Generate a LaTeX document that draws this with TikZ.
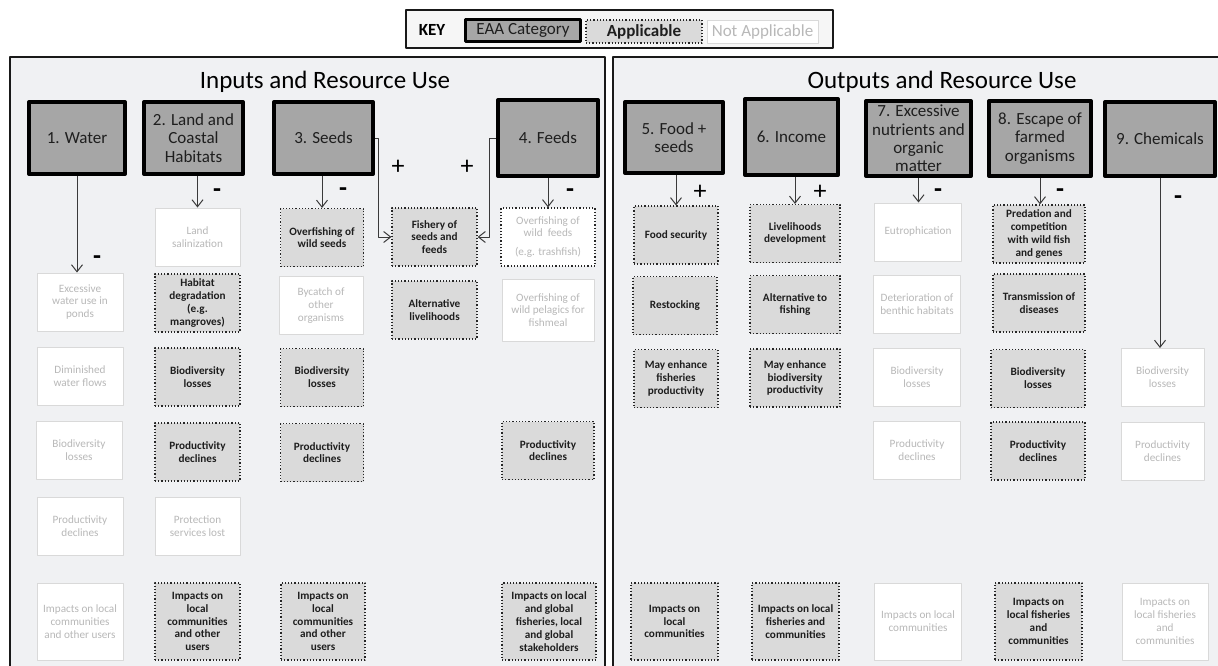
\documentclass[tikz,border=0pt]{standalone}
\usepackage{fontspec}
\setmainfont{Carlito}
\usetikzlibrary{arrows.meta}
\definecolor{panelbg}{HTML}{F0F1F3}
\definecolor{keybg}{HTML}{F6F6F6}
\definecolor{catgray}{HTML}{A6A6A6}
\definecolor{applgray}{HTML}{DADADA}
\definecolor{natext}{HTML}{B8B8B8}
\definecolor{naline}{HTML}{D9D9D9}
\definecolor{darktext}{HTML}{1E1E1E}
\definecolor{arrgray}{HTML}{3A3A3A}
\begin{document}
\begin{tikzpicture}[x=0.5pt, y=-0.5pt, line join=round,
  cat/.style={draw=black, line width=2pt, fill=catgray, text=darktext, align=center, inner sep=0pt,
    minimum width=48pt, minimum height=36pt, font=\fontsize{8.5}{9.2}\selectfont},
  appl/.style={draw=black!85, densely dotted, line width=0.6pt, fill=applgray, text=darktext, align=center,
    inner sep=0pt, minimum width=42pt, minimum height=29pt, font=\bfseries\fontsize{5.6}{6.4}\selectfont},
  napp/.style={draw=naline, line width=0.5pt, fill=white, text=natext, align=center,
    inner sep=0pt, minimum width=42pt, minimum height=29pt, font=\fontsize{5.6}{6.4}\selectfont},
  arr/.style={draw=arrgray, line width=0.5pt, -{Straight Barb[length=3.5pt,width=5.5pt]}},
  sign/.style={inner sep=0pt, font=\fontsize{13}{13}\selectfont},
  title/.style={anchor=base, inner sep=0pt, font=\fontsize{12.5}{14}\selectfont}]
  \useasboundingbox (0,0) rectangle (1218,665);
  % Panels
  \filldraw[fill=panelbg, draw=black!90, line width=1.2pt] (10,57) rectangle (605,680);
  \filldraw[fill=panelbg, draw=black!90, line width=1.2pt] (613,57) rectangle (1235,680);
  \node[title] (tin) at (325,88) {Inputs and Resource Use};
  \node[title] (tout) at (942,88) {Outputs and Resource Use};
  % Key
  \filldraw[fill=keybg, draw=black!90, line width=1pt] (406,10) rectangle (833,48);
  \node[font=\bfseries\fontsize{8.5}{9}\selectfont, inner sep=0pt] (key) at (432,30) {KEY};
  \node[cat, line width=1.5pt, minimum width=57.5pt, minimum height=11pt] (keycat) at (523,30.5) {EAA Category};
  \node[appl, font=\bfseries\fontsize{8.5}{9}\selectfont, minimum width=58pt, minimum height=11.5pt] (keyapp) at (644,31.5) {Applicable};
  \node[napp, font=\fontsize{8.5}{9}\selectfont, minimum width=55.5pt, minimum height=11.5pt] (keyna) at (762.5,31.5) {Not Applicable};
  % EAA categories
  \node[cat] (c1) at (77,138) {1. Water};
  \node[cat, minimum width=49.5pt] (c2) at (193.5,138) {2. Land and\\Coastal\\Habitats};
  \node[cat, minimum width=49.5pt] (c3) at (323.5,138) {3. Seeds};
  \node[cat, minimum width=50pt, minimum height=38pt] (c4) at (548,138) {4. Feeds};
  \node[cat, minimum width=49pt, minimum height=35.5pt] (c5) at (674,137.5) {5. Food +\\seeds};
  \node[cat, minimum width=46.5pt, minimum height=38pt] (c6) at (791.5,137) {6. Income};
  \node[cat, minimum width=52.5pt, minimum height=37.5pt] (c7) at (918.5,138.5) {7. Excessive\\nutrients and\\organic\\matter};
  \node[cat, minimum width=51pt, minimum height=37.5pt] (c8) at (1040,138.5) {8. Escape of\\farmed\\organisms};
  \node[cat, minimum width=55pt, minimum height=37pt] (c9) at (1160,139) {9. Chemicals};
  % Water
  \node[napp, minimum width=43pt] (w1a) at (80,302) {Excessive\\water use in\\ponds};
  \node[napp, minimum width=43pt] (w1b) at (80,376) {Diminished\\water flows};
  \node[napp, minimum width=43pt] (w1c) at (79,450.5) {Biodiversity\\losses};
  \node[napp, minimum width=43pt] (w1d) at (80,526) {Productivity\\declines};
  \node[napp, minimum width=43pt, minimum height=38.5pt] (w1e) at (80,621.5) {Impacts on local\\communities\\and other users};
  % Land and coastal habitats
  \node[napp, minimum width=42.5pt] (l2a) at (197.5,237) {Land\\salinization};
  \node[appl, minimum width=42.5pt] (l2b) at (197.5,303) {Habitat\\degradation\\(e.g.\\mangroves)};
  \node[appl, minimum width=42.5pt] (l2c) at (197.5,377) {Biodiversity\\losses};
  \node[appl, minimum width=42.5pt] (l2d) at (197.5,452) {Productivity\\declines};
  \node[napp, minimum width=42.5pt] (l2e) at (197.5,526) {Protection\\services lost};
  \node[appl, minimum width=42.5pt, minimum height=38.5pt] (l2f) at (197.5,621.5) {Impacts on\\local\\communities\\and other\\users};
  % Seeds
  \node[appl, minimum width=41.5pt] (s3a) at (322,237.5) {Overfishing of\\wild seeds};
  \node[napp, minimum width=42pt] (s3b) at (321,305.5) {Bycatch of\\other\\organisms};
  \node[appl, minimum width=41.5pt] (s3c) at (322,377.5) {Biodiversity\\losses};
  \node[appl, minimum width=41.5pt] (s3d) at (322,452.5) {Productivity\\declines};
  \node[appl, minimum width=42pt, minimum height=38.5pt] (s3e) at (323,621.5) {Impacts on\\local\\communities\\and other\\users};
  \node[appl, minimum width=42.5pt] (fish) at (434.5,237) {Fishery of\\seeds and\\feeds};
  \node[appl, minimum width=42.5pt] (alt) at (434.5,310) {Alternative\\livelihoods};
  % Feeds
  \node[appl, fill=white, text=natext, font=\fontsize{5.6}{6.4}\selectfont, minimum width=47pt] (f4a) at (548,237) {Overfishing of\\wild\ \ feeds\\[3pt](e.g. trashfish)};
  \node[napp, minimum width=46pt, minimum height=31pt] (f4b) at (548,310) {Overfishing of\\wild pelagics for\\fishmeal};
  \node[appl, minimum width=46pt] (f4c) at (548,450.5) {Productivity\\declines};
  \node[appl, minimum width=47pt, minimum height=38.5pt] (f4d) at (549,621.5) {Impacts on local\\and global\\fisheries, local\\and global\\stakeholders};
  % Food + seeds
  \node[appl] (food) at (676,235) {Food security};
  \node[appl] (restock) at (675,305.5) {Restocking};
  \node[appl] (mayfish) at (676,378.5) {May enhance\\fisheries\\productivity};
  \node[appl, minimum width=43.5pt, minimum height=38.5pt] (imp5) at (674.5,621.5) {Impacts on\\local\\communities};
  % Income
  \node[appl, minimum width=45pt] (liveli) at (795,233.5) {Livelihoods\\development};
  \node[appl, minimum width=45pt] (altfish) at (795,304.5) {Alternative to\\fishing};
  \node[appl, minimum width=45pt] (maybio) at (795,378) {May enhance\\biodiversity\\productivity};
  \node[appl, minimum width=43.5pt, minimum height=38.5pt] (imp6) at (795.5,621.5) {Impacts on local\\fisheries and\\communities};
  % Excessive nutrients
  \node[napp, minimum width=43.5pt] (eutro) at (918,232) {Eutrophication};
  \node[napp, minimum width=43.5pt] (benthic) at (917,304.5) {Deterioration of\\benthic habitats};
  \node[napp, minimum width=43.5pt] (bio7) at (917,377.5) {Biodiversity\\losses};
  \node[napp, minimum width=43.5pt] (prod7) at (917,450.5) {Productivity\\declines};
  \node[napp, minimum width=43.5pt, minimum height=38.5pt] (imp7) at (918,621.5) {Impacts on local\\communities};
  % Escape of farmed organisms
  \node[appl, minimum width=46pt] (pred) at (1039,234) {Predation and\\competition\\with wild fish\\and genes};
  \node[appl, minimum width=46pt] (trans) at (1039,303) {Transmission of\\diseases};
  \node[appl, minimum width=47pt] (bio8) at (1038,378.5) {Biodiversity\\losses};
  \node[appl, minimum width=47pt] (prod8) at (1038,451) {Productivity\\declines};
  \node[appl, minimum width=43.5pt, minimum height=38.5pt] (imp8) at (1038.5,621.5) {Impacts on\\local fisheries\\and\\communities};
  % Chemicals
  \node[napp, minimum width=41.5pt] (bio9) at (1162.5,377.5) {Biodiversity\\losses};
  \node[napp, minimum width=41.5pt] (prod9) at (1162.5,451) {Productivity\\declines};
  \node[napp, minimum width=43pt, minimum height=38.5pt] (imp9) at (1165,621.5) {Impacts on\\local fisheries\\and\\communities};
  % Arrows
  \draw[arr] (c1.south) -- (c1.south |- w1a.north);
  \draw[arr] (l2a.north |- c2.south) -- (l2a.north);
  \draw[arr] (s3a.north |- c3.south) -- (s3a.north);
  \draw[arr] (f4a.north |- c4.south) -- (f4a.north);
  \draw[arr] (food.north |- c5.south) -- (food.north);
  \draw[arr] (liveli.north |- c6.south) -- (liveli.north);
  \draw[arr] (c7.south) -- (c7.south |- eutro.north);
  \draw[arr] (c8.south) -- (c8.south |- pred.north);
  \draw[arr] (c9.south) -- (c9.south |- bio9.north);
  \coordinate (k3) at (378,0);
  \coordinate (k4) at (489,0);
  \draw[arr] (c3.east) -| (k3 |- fish.west) -- (fish.west);
  \draw[arr] (c4.west) -| (k4 |- fish.east) -- (fish.east);
  % Signs
  \foreach \n/\x/\y/\s in {m1/97/260/\textbf{-}, m2/217/193/\textbf{-}, m3/343/192/\textbf{-}, p3/398/167/+, p4/467/167/+,
      m4/570/193/\textbf{-}, p5/700/192/+, p6/820/192/+, m7/938/193/\textbf{-}, m8/1060/193/\textbf{-}, m9/1178/200/\textbf{-}}
    {\node[sign] (\n) at (\x,\y) {\s};}
\end{tikzpicture}
\end{document}
